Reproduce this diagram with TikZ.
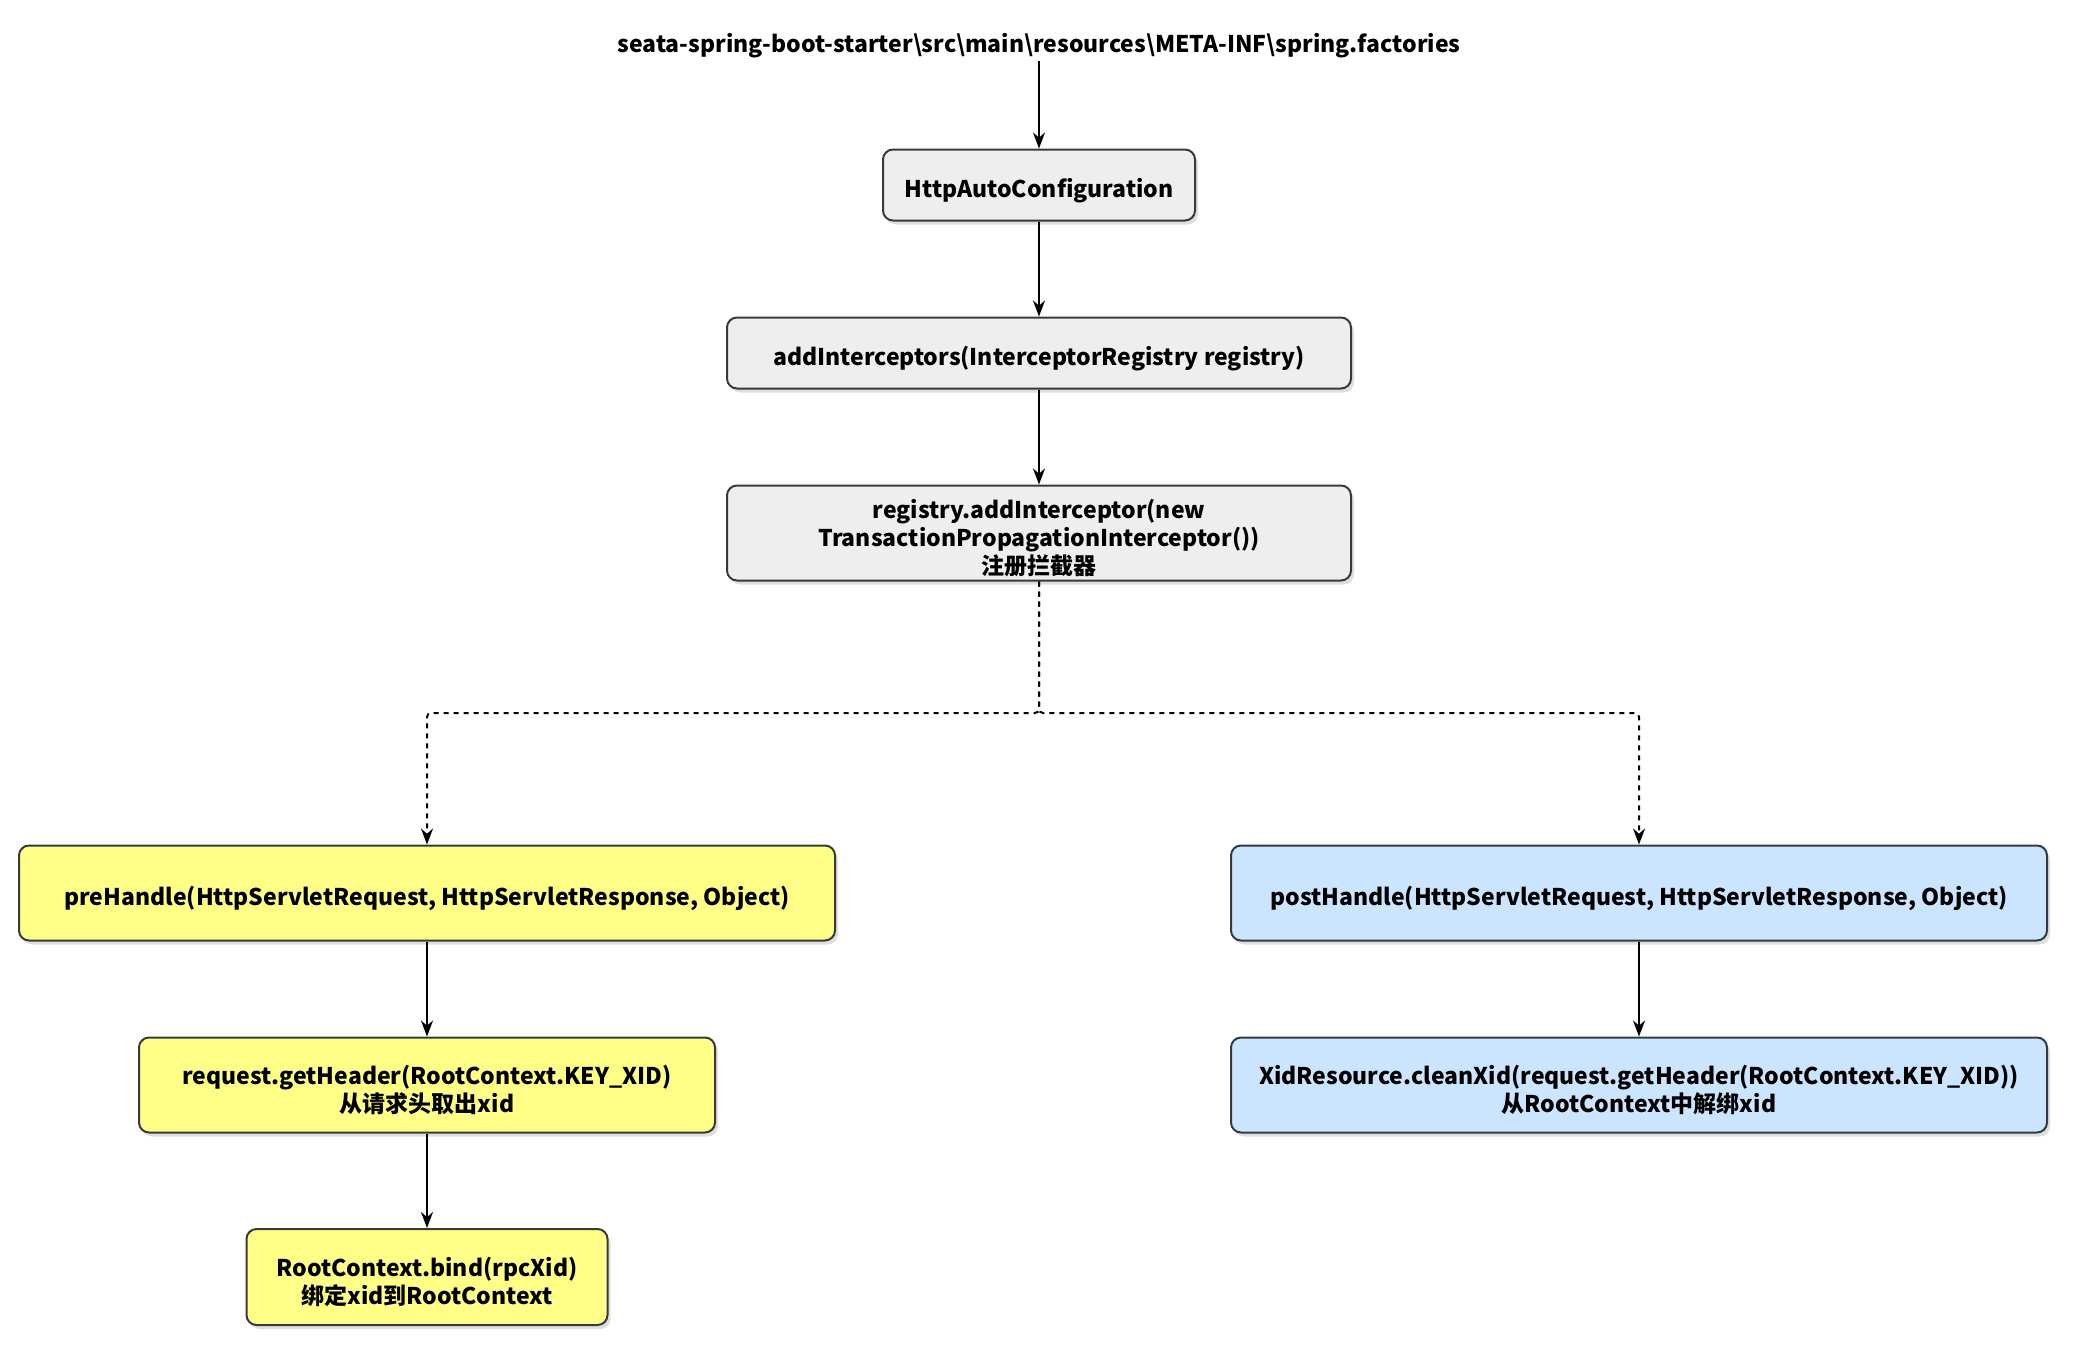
\documentclass[tikz,border=0pt]{standalone}
\usepackage{fontspec}
\setmainfont{Noto Sans CJK SC}
\usetikzlibrary{arrows.meta,shadows,positioning}
\definecolor{boxgray}{HTML}{EEEEEE}
\definecolor{boxyellow}{HTML}{FFFF88}
\definecolor{boxblue}{HTML}{CCE5FF}
\definecolor{edgedark}{HTML}{36393D}
\newcommand{\lowerstrut}{\rule{0pt}{30pt}}
\tikzset{
  flowbox/.style={draw=edgedark, line width=2pt, rounded corners=10pt, align=center,
    inner sep=0pt, font=\fontsize{23}{28}\selectfont\bfseries,
    drop shadow={shadow xshift=3pt, shadow yshift=-4pt, opacity=0.25, fill=gray}},
  graybox/.style={flowbox, fill=boxgray},
  yellowbox/.style={flowbox, fill=boxyellow},
  bluebox/.style={flowbox, fill=boxblue},
  conn/.style={line width=2pt, -{Stealth[length=16pt,width=12pt]}},
  dconn/.style={conn, dash pattern=on 5pt off 5pt, rounded corners=4pt},
}
\begin{document}
\begin{tikzpicture}[x=1pt,y=-1pt]
\useasboundingbox (0,0) rectangle (2075,1355);
\node[font=\fontsize{23}{26}\selectfont\bfseries, inner sep=2pt] (src) at (1039,46) {seata-spring-boot-starter\textbackslash src\textbackslash main\textbackslash resources\textbackslash META-INF\textbackslash spring.factories};
\node[graybox, minimum width=312pt, minimum height=71pt] (auto) at (1039,185) {\lowerstrut HttpAutoConfiguration};
\node[graybox, minimum width=624pt, minimum height=71pt] (add) at (1039,353) {\lowerstrut addInterceptors(InterceptorRegistry registry)};
\node[graybox, minimum width=624pt, minimum height=95pt] (reg) at (1039,533) {\lowerstrut registry.addInterceptor(new\\TransactionPropagationInterceptor())\\注册拦截器};
\node[yellowbox, minimum width=816pt, minimum height=95pt] (pre) at (427,893) {\lowerstrut preHandle(HttpServletRequest, HttpServletResponse, Object)};
\node[bluebox, minimum width=816pt, minimum height=95pt] (post) at (1639,893) {\lowerstrut postHandle(HttpServletRequest, HttpServletResponse, Object)};
\node[yellowbox, minimum width=576pt, minimum height=95pt] (hdr) at (427,1085) {\lowerstrut request.getHeader(RootContext.KEY\_XID)\\从请求头取出xid};
\node[bluebox, minimum width=816pt, minimum height=95pt] (clean) at (1639,1085) {\lowerstrut XidResource.cleanXid(request.getHeader(RootContext.KEY\_XID))\\从RootContext中解绑xid};
\node[yellowbox, minimum width=361pt, minimum height=96pt] (bind) at (427,1277) {\lowerstrut RootContext.bind(rpcXid)\\绑定xid到RootContext};
\coordinate (split) at (1039,713);
\draw[conn] (src) -- (auto);
\draw[conn] (auto) -- (add);
\draw[conn] (add) -- (reg);
\draw[dconn] (reg.south) -- (split) -| (pre.north);
\draw[dconn] (reg.south) -- (split) -| (post.north);
\draw[conn] (pre) -- (hdr);
\draw[conn] (hdr) -- (bind);
\draw[conn] (post) -- (clean);
\end{tikzpicture}
\end{document}
